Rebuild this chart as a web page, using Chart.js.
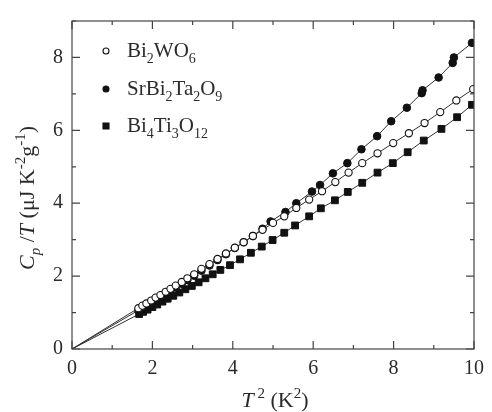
<!DOCTYPE html>
<html>
<head>
<meta charset="utf-8">
<script src="https://cdn.jsdelivr.net/npm/chart.js@4"></script>
<style>
  html, body { margin: 0; padding: 0; background: #fff; }
</style>
</head>
<body>
<canvas id="myChart" width="492" height="412"></canvas>
<script>
// T^2 (K^2) and Cp/T (uJ K^-2 g^-1); first point is the origin the fit lines start from
const bi2wo6T2 = [0, 1.65, 1.75, 1.85, 1.97, 2.08, 2.2, 2.33, 2.45, 2.58, 2.73, 2.87, 3.04, 3.22, 3.42, 3.62, 3.83, 4.05, 4.27, 4.5, 4.74, 5.0, 5.28, 5.58, 5.9, 6.22, 6.55, 6.88, 7.22, 7.6, 7.99, 8.38, 8.77, 9.16, 9.56, 9.98];
const bi2wo6Cp = [0, 1.12, 1.19, 1.25, 1.33, 1.41, 1.48, 1.57, 1.65, 1.74, 1.84, 1.94, 2.05, 2.2, 2.33, 2.47, 2.62, 2.78, 2.93, 3.1, 3.27, 3.46, 3.64, 3.87, 4.1, 4.33, 4.58, 4.84, 5.1, 5.37, 5.65, 5.92, 6.2, 6.5, 6.82, 7.13];

const srbiT2 = [0, 1.65, 1.75, 1.85, 1.97, 2.08, 2.2, 2.33, 2.45, 2.58, 2.73, 2.87, 3.04, 3.22, 3.42, 3.62, 3.83, 4.05, 4.27, 4.5, 4.74, 4.94, 5.31, 5.58, 5.97, 6.17, 6.49, 6.85, 7.2, 7.59, 7.94, 8.33, 8.7, 8.72, 9.12, 9.47, 9.5, 9.95];
const srbiCp = [0, 1.06, 1.13, 1.19, 1.27, 1.35, 1.42, 1.51, 1.6, 1.69, 1.79, 1.89, 2.01, 2.15, 2.29, 2.44, 2.6, 2.77, 2.93, 3.1, 3.3, 3.5, 3.76, 4.0, 4.32, 4.5, 4.82, 5.1, 5.48, 5.84, 6.25, 6.62, 7.02, 7.1, 7.45, 7.85, 8.0, 8.4];

const bi4ti3T2 = [0, 1.67, 1.77, 1.88, 2.0, 2.12, 2.25, 2.38, 2.52, 2.67, 2.82, 2.98, 3.15, 3.32, 3.5, 3.69, 3.93, 4.18, 4.45, 4.72, 4.99, 5.28, 5.55, 5.9, 6.19, 6.54, 6.86, 7.22, 7.6, 7.98, 8.35, 8.75, 9.19, 9.58, 9.95];
const bi4ti3Cp = [0, 0.96, 1.02, 1.08, 1.15, 1.22, 1.3, 1.38, 1.46, 1.55, 1.64, 1.73, 1.83, 1.94, 2.05, 2.17, 2.3, 2.46, 2.64, 2.81, 2.99, 3.19, 3.39, 3.64, 3.86, 4.08, 4.31, 4.56, 4.84, 5.1, 5.4, 5.72, 6.04, 6.36, 6.7];

const seriesNames = ["Bi2WO6", "SrBi2Ta2O9", "Bi4Ti3O12"];
// legend labels with sub-scripts, as [text, kind] pieces
const legendParts = [
  [["Bi", "n"], ["2", "sub"], ["WO", "n"], ["6", "sub"]],
  [["SrBi", "n"], ["2", "sub"], ["Ta", "n"], ["2", "sub"], ["O", "n"], ["9", "sub"]],
  [["Bi", "n"], ["4", "sub"], ["Ti", "n"], ["3", "sub"], ["O", "n"], ["12", "sub"]]
];
const xTitleParts = [["T", "i"], [" 2", "sup"], [" (K", "n"], ["2", "sup"], [")", "n"]];
const yTitleParts = [["C", "i"], ["p", "isub"], [" /", "n"], ["T", "i"], [" (\u03bcJ K", "n"], ["-2", "sup"], ["g", "n"], ["-1", "sup"], [")", "n"]];

const serif = '"Liberation Serif", "Times New Roman", serif';
const ink = "#2b2b2b";

const toPoints = (xs, ys) => xs.map((x, i) => ({ x: x, y: ys[i] }));

function drawRich(ctx, parts, x, y, size, align) {
  const fontFor = k => {
    const small = k === "sub" || k === "isub" || k === "sup";
    const s = small ? Math.round(size * 0.68) : size;
    const it = (k === "i" || k === "isub") ? "italic " : "";
    return it + s + "px " + serif;
  };
  let w = 0;
  parts.forEach(p => { ctx.font = fontFor(p[1]); w += ctx.measureText(p[0]).width; });
  let cx = align === "center" ? x - w / 2 : x;
  ctx.textAlign = "left";
  ctx.textBaseline = "alphabetic";
  parts.forEach(p => {
    ctx.font = fontFor(p[1]);
    let dy = 0;
    if (p[1] === "sub" || p[1] === "isub") dy = size * 0.28;
    if (p[1] === "sup") dy = -size * 0.42;
    ctx.fillText(p[0], cx, y + dy);
    cx += ctx.measureText(p[0]).width;
  });
}

// frame, inward ticks on all four sides, axis titles and the legend
const decorations = {
  id: "decorations",
  afterDraw(chart) {
    const ctx = chart.ctx;
    const a = chart.chartArea;
    const xs = chart.scales.x;
    const ys = chart.scales.y;
    ctx.save();
    ctx.strokeStyle = "#444";
    ctx.lineWidth = 1.2;
    ctx.strokeRect(a.left, a.top, a.right - a.left, a.bottom - a.top);
    ctx.beginPath();
    xs.ticks.forEach(t => {
      const px = xs.getPixelForValue(t.value);
      const len = t.value % 2 === 0 ? 8 : 4;
      ctx.moveTo(px, a.bottom); ctx.lineTo(px, a.bottom - len);
      ctx.moveTo(px, a.top); ctx.lineTo(px, a.top + len);
    });
    ys.ticks.forEach(t => {
      const py = ys.getPixelForValue(t.value);
      const len = t.value % 2 === 0 ? 8 : 4;
      ctx.moveTo(a.left, py); ctx.lineTo(a.left + len, py);
      ctx.moveTo(a.right, py); ctx.lineTo(a.right - len, py);
    });
    ctx.stroke();

    ctx.fillStyle = ink;
    drawRich(ctx, xTitleParts, 275, 407, 22, "center");
    ctx.save();
    ctx.translate(34, 198);
    ctx.rotate(-Math.PI / 2);
    drawRich(ctx, yTitleParts, 0, 0, 22, "center");
    ctx.restore();

    const rows = [57, 95, 132];
    chart.data.datasets.forEach((ds, i) => {
      const my = rows[i] - 6;
      ctx.beginPath();
      ctx.lineWidth = 1.1;
      ctx.strokeStyle = "#111";
      ctx.fillStyle = ds.pointBackgroundColor;
      if (ds.pointStyle === "rect") {
        ctx.rect(103, my - 3, 6, 6);
      } else {
        ctx.arc(106, my, 3, 0, Math.PI * 2);
      }
      ctx.fill();
      ctx.stroke();
      ctx.fillStyle = ink;
      drawRich(ctx, legendParts[i], 127, rows[i], 21, "left");
    });
    ctx.restore();
  }
};

const ctx = document.getElementById("myChart").getContext("2d");
new Chart(ctx, {
  type: "scatter",
  data: {
    datasets: [
      {
        label: seriesNames[0],
        data: toPoints(bi2wo6T2, bi2wo6Cp),
        showLine: true,
        borderColor: "#333",
        borderWidth: 1,
        pointStyle: "circle",
        pointRadius: c => (c.dataIndex === 0 ? 0 : 3.6),
        pointBorderWidth: 1.1,
        pointBorderColor: "#111",
        pointBackgroundColor: "#fff"
      },
      {
        label: seriesNames[1],
        data: toPoints(srbiT2, srbiCp),
        showLine: true,
        borderColor: "#333",
        borderWidth: 1,
        pointStyle: "circle",
        pointRadius: c => (c.dataIndex === 0 ? 0 : 3.8),
        pointBorderWidth: 1,
        pointBorderColor: "#111",
        pointBackgroundColor: "#111"
      },
      {
        label: seriesNames[2],
        data: toPoints(bi4ti3T2, bi4ti3Cp),
        showLine: true,
        borderColor: "#333",
        borderWidth: 1,
        pointStyle: "rect",
        pointRadius: c => (c.dataIndex === 0 ? 0 : 4.8),
        pointBorderWidth: 1,
        pointBorderColor: "#111",
        pointBackgroundColor: "#111"
      }
    ]
  },
  options: {
    responsive: false,
    devicePixelRatio: 1,
    animation: false,
    events: [],
    layout: { padding: { top: 10, right: 13, left: 0, bottom: 0 } },
    plugins: { legend: { display: false }, tooltip: { enabled: false } },
    scales: {
      x: {
        type: "linear",
        min: 0,
        max: 10,
        grid: { display: false, drawTicks: false },
        border: { display: false },
        ticks: {
          stepSize: 1,
          padding: 8,
          maxRotation: 0,
          color: ink,
          font: { family: serif, size: 20 },
          callback: v => (v % 2 === 0 ? v : "")
        },
        afterFit: s => { s.height = 63; }
      },
      y: {
        type: "linear",
        min: 0,
        max: 9,
        grid: { display: false, drawTicks: false },
        border: { display: false },
        ticks: {
          stepSize: 1,
          padding: 9,
          color: ink,
          font: { family: serif, size: 20 },
          callback: v => (v % 2 === 0 ? v : "")
        },
        afterFit: s => { s.width = 72; }
      }
    }
  },
  plugins: [decorations]
});
</script>
</body>
</html>
